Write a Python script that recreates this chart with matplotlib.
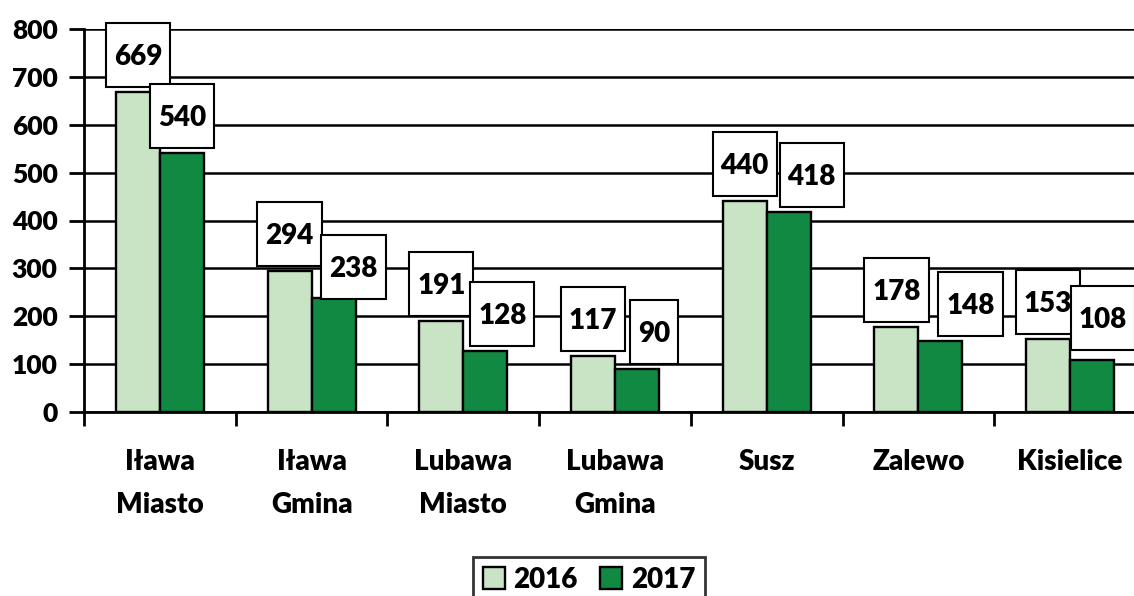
import matplotlib
matplotlib.use("Agg")
import matplotlib.pyplot as plt
from matplotlib.patches import Rectangle
from matplotlib.transforms import IdentityTransform
import numpy as np

plt.rcParams['font.family'] = ['Lato', 'DejaVu Sans']
plt.rcParams['font.weight'] = 'heavy'

categories = ["Iława\nMiasto", "Iława\nGmina", "Lubawa\nMiasto", "Lubawa\nGmina",
              "Susz", "Zalewo", "Kisielice"]
v2016 = [669, 294, 191, 117, 440, 178, 153]
v2017 = [540, 238, 128, 90, 418, 148, 108]
years = ["2016", "2017"]

# label nudges (pixels) for the 2017 boxes, as placed in the original
shift_x17 = [0, 20, 17, 17, 23, 30, 11]
shift_y17 = [0, -6, 0, 0, 0, 0, 5]

c_light = "#c8e4c4"
c_dark = "#128942"

W, H = 1134, 596
fig = plt.figure(figsize=(W / 100, H / 100), dpi=100)
ax = fig.add_axes([84 / W, (H - 412) / H, 1062 / W, 383 / H])

x = np.arange(len(categories))
bw = 0.29
b1 = ax.bar(x - bw / 2, v2016, bw, color=c_light, edgecolor="black", linewidth=1.7,
            label=years[0], zorder=3)
b2 = ax.bar(x + bw / 2, v2017, bw, color=c_dark, edgecolor="black", linewidth=1.7,
            label=years[1], zorder=3)

ax.set_ylim(0, 800)
ax.set_xlim(-0.5, len(categories) - 0.5)
ax.set_yticks(range(0, 801, 100))
ax.yaxis.grid(True, color="black", linewidth=1.8, zorder=0)
ax.set_axisbelow(True)
for s in ["top", "right"]:
    ax.spines[s].set_visible(False)
ax.spines["left"].set_linewidth(2)
ax.spines["bottom"].set_linewidth(2)

ax.set_xticks(np.arange(-0.5, len(categories), 1.0))
ax.set_xticklabels([])
ax.set_xticks(x, minor=True)
ax.set_xticklabels(categories, minor=True, fontsize=20, fontweight="heavy", linespacing=1.8)
ax.tick_params(axis="x", which="major", direction="out", length=10, width=2)
ax.tick_params(axis="x", which="minor", length=0, pad=27)
ax.tick_params(axis="y", direction="out", length=11, width=2, labelsize=19, pad=8)
for t in ax.get_yticklabels():
    t.set_fontweight("heavy")

# value labels in boxes
gap, bh = 5, 64
labels = []
for i, (bars, vals) in enumerate([(b1, v2016), (b2, v2017)]):
    for j, (bar, v) in enumerate(zip(bars, vals)):
        cx = bar.get_x() + bar.get_width() / 2
        dx = shift_x17[j] if i == 1 else 0
        dy = shift_y17[j] if i == 1 else 0
        cy_off = gap + bh / 2 + dy
        t = ax.annotate(str(v), (cx, v), xytext=(dx, cy_off - 10), textcoords="offset pixels",
                        ha="center", va="baseline", fontsize=20, fontweight="heavy",
                        zorder=5 + 2 * i, annotation_clip=False)
        labels.append((t, i, cx, v, dx, cy_off))

fig.canvas.draw()
r = fig.canvas.get_renderer()
for t, i, cx, v, dx, cy_off in labels:
    bb = t.get_window_extent(r)
    px, py = ax.transData.transform((cx, v))
    w = bb.width + 16
    rect = Rectangle((px + dx - w / 2, py + cy_off - bh / 2), w, bh, transform=IdentityTransform(),
                     facecolor="white", edgecolor="black", linewidth=1.5,
                     zorder=4 + 2 * i, clip_on=False)
    ax.add_patch(rect)

leg = fig.legend(loc="upper center", bbox_to_anchor=(589 / W, 1 - 543 / H),
                 ncol=2, frameon=True, fancybox=False,
                 handlelength=0.8, handleheight=0.8, handletextpad=0.3,
                 columnspacing=0.8, borderpad=0.35, prop={"weight": "heavy", "size": 20})
leg.get_frame().set_edgecolor("black")
leg.get_frame().set_linewidth(2)

fig.savefig("out.png", dpi=100)
